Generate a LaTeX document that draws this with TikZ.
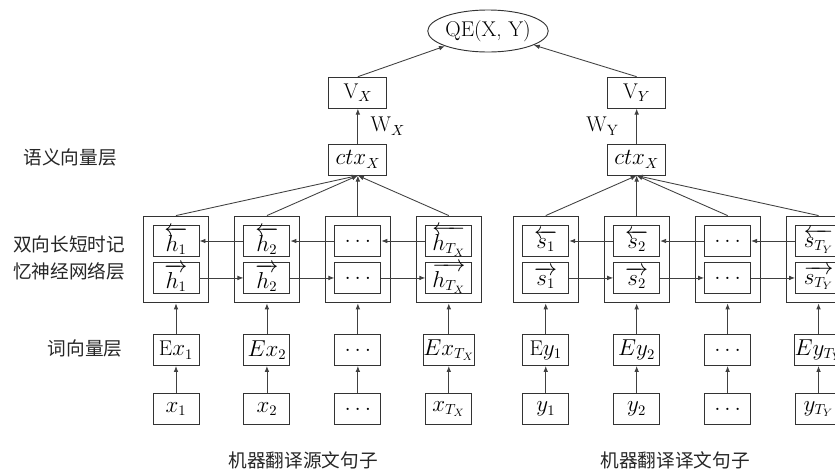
\documentclass[tikz,border=0pt]{standalone}
\usepackage{amsmath}
\usepackage{fontspec}
\newfontfamily\cjk{Noto Sans CJK SC}
\usepackage{tikz}
\usetikzlibrary{positioning,arrows.meta,fit,shapes.geometric}

\begin{document}
\begin{tikzpicture}[
  x=0.75pt, y=-0.75pt,
  font=\fontsize{16}{19}\selectfont,
  box/.style={draw=black!80, line width=0.7pt, minimum width=34.5pt,
              minimum height=23.25pt, inner sep=0pt},
  hbox/.style={box},
  ebox/.style={box},
  vbox/.style={box, minimum width=43.5pt},
  cell/.style={draw=black!80, line width=0.7pt, inner sep=6.75pt},
  arr/.style={-{Latex[length=4.5pt,width=3.5pt]}, line width=0.65pt, black!75},
  wlbl/.style={text=black},
  lbl/.style={font=\cjk\fontsize{14}{20}\selectfont, align=center, text=black!85}
]
\useasboundingbox (0,0) rectangle (835,472);
\clip (0,0) rectangle (835,472);

% source sentence: BiLSTM cells
\node[hbox] (hb1) at (176,241) {$\overleftarrow{h_1}$};
\node[hbox, right=33pt of hb1] (hb2) {$\overleftarrow{h_2}$};
\node[hbox, right=33pt of hb2] (hb3) {$\ldots$};
\node[hbox, right=33pt of hb3] (hb4) {$\overleftarrow{h_{T_X}}$};
\node[hbox, below=3.75pt of hb1] (hf1) {$\overrightarrow{h_1}$};
\node[hbox, below=3.75pt of hb2] (hf2) {$\overrightarrow{h_2}$};
\node[hbox, below=3.75pt of hb3] (hf3) {$\ldots$};
\node[hbox, below=3.75pt of hb4] (hf4) {$\overrightarrow{h_{T_X}}$};
\node[cell, fit=(hb1)(hf1)] (c1) {};
\node[cell, fit=(hb2)(hf2)] (c2) {};
\node[cell, fit=(hb3)(hf3)] (c3) {};
\node[cell, fit=(hb4)(hf4)] (c4) {};

% target sentence: BiLSTM cells
\node[hbox, right=37.5pt of hb4] (sb1) {$\overleftarrow{s_1}$};
\node[hbox, right=33pt of sb1] (sb2) {$\overleftarrow{s_2}$};
\node[hbox, right=33pt of sb2] (sb3) {$\ldots$};
\node[hbox, right=33pt of sb3] (sb4) {$\overleftarrow{s_{T_Y}}$};
\node[hbox, below=3.75pt of sb1] (sf1) {$\overrightarrow{s_1}$};
\node[hbox, below=3.75pt of sb2] (sf2) {$\overrightarrow{s_2}$};
\node[hbox, below=3.75pt of sb3] (sf3) {$\ldots$};
\node[hbox, below=3.75pt of sb4] (sf4) {$\overrightarrow{s_{T_Y}}$};
\node[cell, fit=(sb1)(sf1)] (d1) {};
\node[cell, fit=(sb2)(sf2)] (d2) {};
\node[cell, fit=(sb3)(sf3)] (d3) {};
\node[cell, fit=(sb4)(sf4)] (d4) {};

% word embeddings and words
\node[ebox, below=23pt of c1] (ex1) {$\mathrm{E}x_1$};
\node[ebox, below=23pt of c2] (ex2) {$Ex_2$};
\node[ebox, below=23pt of c3] (ex3) {$\ldots$};
\node[ebox, below=23pt of c4] (ex4) {$Ex_{T_X}$};
\node[ebox, below=20.25pt of ex1] (x1) {$x_1$};
\node[ebox, below=20.25pt of ex2] (x2) {$x_2$};
\node[ebox, below=20.25pt of ex3] (x3) {$\ldots$};
\node[ebox, below=20.25pt of ex4] (x4) {$x_{T_X}$};
\node[ebox, below=23pt of d1] (ey1) {$\mathrm{E}y_1$};
\node[ebox, below=23pt of d2] (ey2) {$Ey_2$};
\node[ebox, below=23pt of d3] (ey3) {$\ldots$};
\node[ebox, below=23pt of d4] (ey4) {$Ey_{T_Y}$};
\node[ebox, below=20.25pt of ey1] (y1) {$y_1$};
\node[ebox, below=20.25pt of ey2] (y2) {$y_2$};
\node[ebox, below=20.25pt of ey3] (y3) {$\ldots$};
\node[ebox, below=20.25pt of ey4] (y4) {$y_{T_Y}$};

% semantic vectors
\node[vbox, above=30pt of c3] (ctxx) {$ctx_X$};
\node[vbox, above=26.25pt of ctxx] (vx) {$\mathrm{V}_X$};
\node[vbox, above=30pt of d2] (ctxy) {$ctx_X$};
\node[vbox, above=26.25pt of ctxy] (vy) {$\mathrm{V}_Y$};
\node[draw=black!80, line width=0.7pt, ellipse, minimum width=73.5pt,
      minimum height=31.5pt, inner sep=0pt] (qe) at (488,31) {QE(X, Y)};

\draw[arr] (x1)--(ex1);  \draw[arr] (x2)--(ex2);
\draw[arr] (x3)--(ex3);  \draw[arr] (x4)--(ex4);
\draw[arr] (y1)--(ey1);  \draw[arr] (y2)--(ey2);
\draw[arr] (y3)--(ey3);  \draw[arr] (y4)--(ey4);
\draw[arr] (ex1)--(c1);  \draw[arr] (ex2)--(c2);
\draw[arr] (ex3)--(c3);  \draw[arr] (ex4)--(c4);
\draw[arr] (ey1)--(d1);  \draw[arr] (ey2)--(d2);
\draw[arr] (ey3)--(d3);  \draw[arr] (ey4)--(d4);

\draw[arr] (hf1)--(hf2); \draw[arr] (hf2)--(hf3); \draw[arr] (hf3)--(hf4);
\draw[arr] (hb2)--(hb1); \draw[arr] (hb3)--(hb2); \draw[arr] (hb4)--(hb3);
\draw[arr] (sf1)--(sf2); \draw[arr] (sf2)--(sf3); \draw[arr] (sf3)--(sf4);
\draw[arr] (sb2)--(sb1); \draw[arr] (sb3)--(sb2); \draw[arr] (sb4)--(sb3);

\draw[arr] (c1.north)--(ctxx.south); \draw[arr] (c2.north)--(ctxx.south);
\draw[arr] (c3.north)--(ctxx.south); \draw[arr] (c4.north)--(ctxx.south);
\draw[arr] (d1.north)--(ctxy.south); \draw[arr] (d2.north)--(ctxy.south);
\draw[arr] (d3.north)--(ctxy.south); \draw[arr] (d4.north)--(ctxy.south);

\draw[arr] (ctxx) -- node[wlbl, right=6pt] {$\mathrm{W}_X$} (vx);
\draw[arr] (ctxy) -- node[wlbl, left=10pt] {$\mathrm{W}_\mathrm{Y}$} (vy);
\draw[arr] (vx.north)--(qe); \draw[arr] (vy.north)--(qe);

% layer names
\node[lbl] (lsem) at (70,157) {语义向量层};
\node[lbl] (llstm) at (69,258) {双向长短时记\\忆神经网络层};
\node[lbl] (lemb) at (85,348) {词向量层};
\node[lbl] (lsrc) at (303,460) {机器翻译源文句子};
\node[lbl] (ltgt) at (675,460) {机器翻译译文句子};
\end{tikzpicture}
\end{document}
